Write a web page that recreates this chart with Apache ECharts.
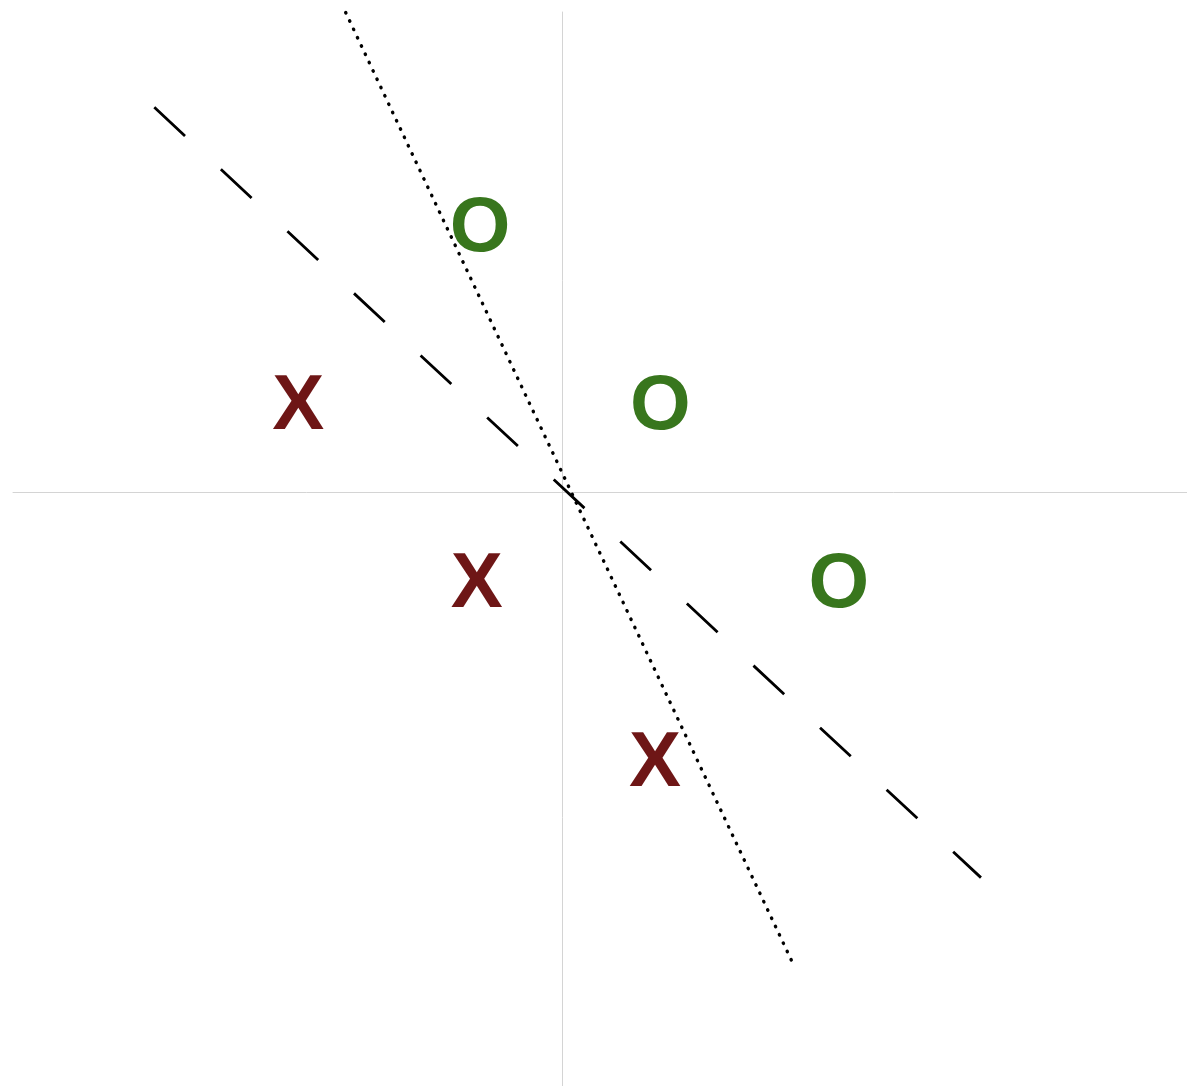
<!DOCTYPE html>
<html>
<head>
<meta charset="utf-8">
<script src="https://cdn.jsdelivr.net/npm/echarts@6/dist/echarts.min.js"></script>
<style>
html, body { margin: 0; padding: 0; background: #fff; }
#main { width: 1187px; height: 1086px; }
</style>
</head>
<body>
<div id="main"></div>
<script>
// class points
var xPoints = [[-1.48, 0.5], [-0.48, -0.5], [0.52, -1.5]];
var oPoints = [[-0.46, 1.5], [0.55, 0.5], [1.55, -0.5]];
// two separating lines, end points
var dashedLine = [[-2.287, 2.160], [2.347, -2.158]];
var dottedLine = [[-1.214, 2.691], [1.304, -2.663]];

var chart = echarts.init(document.getElementById('main'));

var hidden = { show: false };

function letterLabel(txt, col) {
    return {
        show: true, position: 'inside', formatter: txt,
        color: col, opacity: 1, fontFamily: 'Liberation Sans',
        fontWeight: 'bold', fontSize: 78,
        align: 'center', verticalAlign: 'middle',
        offset: [0, 4]
    };
}

var option = {
    backgroundColor: '#ffffff',
    animation: false,
    grid: { left: 13, right: 0, top: 12, bottom: 0 },
    xAxis: {
        type: 'value',
        min: -3.079, max: 3.502,
        axisLine: { onZero: true, lineStyle: { color: '#d4d4d4', width: 1 } },
        axisTick: hidden, axisLabel: hidden, splitLine: hidden
    },
    yAxis: {
        type: 'value',
        min: -3.326, max: 2.694,
        axisLine: { onZero: true, lineStyle: { color: '#d4d4d4', width: 1 } },
        axisTick: hidden, axisLabel: hidden, splitLine: hidden
    },
    series: [
        {
            name: 'dashed', type: 'line', data: dashedLine,
            symbol: 'none', silent: true,
            lineStyle: { color: '#000', width: 2.8, type: [42, 49] }
        },
        {
            name: 'dotted', type: 'line', data: dottedLine,
            symbol: 'none', silent: true,
            lineStyle: { color: '#000', width: 3.4, type: [0.5, 8.68], cap: 'round' }
        },
        {
            name: 'X', type: 'scatter', data: xPoints,
            symbolSize: 0, silent: true,
            itemStyle: { opacity: 1 },
            label: letterLabel('X', '#6e1616')
        },
        {
            name: 'O', type: 'scatter', data: oPoints,
            symbolSize: 0, silent: true,
            itemStyle: { opacity: 1 },
            label: letterLabel('O', '#38761d')
        }
    ]
};

chart.setOption(option);
</script>
</body>
</html>
